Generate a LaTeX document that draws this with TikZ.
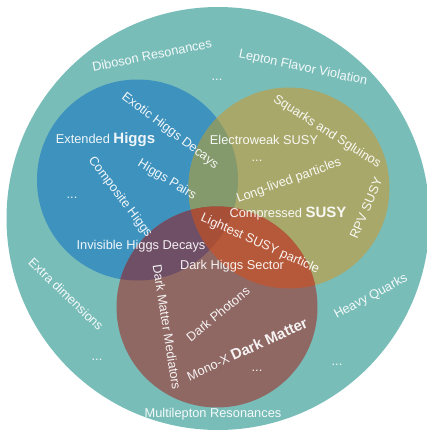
\documentclass[tikz,border=0pt]{standalone}
\usepackage{fontspec}
\setmainfont{Liberation Sans}
\definecolor{teal0}{HTML}{79BDB9}
\definecolor{higgsc}{HTML}{3E92BE}
\definecolor{susyc}{HTML}{A8A86B}
\definecolor{dmc}{HTML}{8F6864}
\definecolor{hsc}{HTML}{84996C}
\definecolor{hdc}{HTML}{6F4F66}
\definecolor{sdc}{HTML}{B6593A}
\definecolor{hsdc}{HTML}{A84F38}
\newcommand\topicword[1]{{\fontsize{15}{16}\selectfont\bfseries #1}}
\begin{document}
\begin{tikzpicture}[x=1pt,y=-1pt,
  lbl/.style={text=white, text opacity=0.92, inner sep=0pt, anchor=center,
    font=\fontsize{12.8}{14}\selectfont},
  dots/.style={lbl}]
% canvas
\fill[white] (0,0) rectangle (427,434);
\useasboundingbox (0,0) rectangle (427,434);

% circles
\def\outerC{(218,218.5) circle[radius=211.5]}
\def\higgsC{(137.5,180) circle[radius=100.5]}
\def\susyC{(289,188) circle[radius=100.5]}
\def\dmC{(217,307) circle[radius=100.5]}

\fill[teal0] \outerC;
\fill[higgsc] \higgsC;
\fill[susyc] \susyC;
\fill[dmc] \dmC;
\begin{scope}
  \clip \higgsC;
  \fill[hsc] \susyC;
  \fill[hdc] \dmC;
\end{scope}
\begin{scope}
  \clip \susyC;
  \fill[sdc] \dmC;
\end{scope}
\begin{scope}
  \clip \higgsC;
  \clip \susyC;
  \fill[hsdc] \dmC;
\end{scope}

% outer ring labels
\node[lbl, rotate=11.5] (dib) at (152,55) {Diboson Resonances};
\node[lbl, rotate=-12] (lfv) at (303,68) {Lepton Flavor Violation};
\node[dots] (d0) at (217,80) {...};
\node[lbl, rotate=-44] (xd) at (66,294) {Extra dimensions};
\node[dots] (d1) at (97,360) {...};
\node[lbl, rotate=28] (hq) at (371,297) {Heavy Quarks};
\node[dots] (d2) at (337,365) {...};
\node[lbl] (mlr) at (213,414) {Multilepton Resonances};

% Higgs labels
\node[lbl] (eh) at (105.5,140) {Extended \topicword{Higgs}};
\node[lbl, rotate=-37] (ehd) at (170,131) {Exotic Higgs Decays};
\node[lbl, rotate=-53] (ch) at (120,197) {Composite Higgs};
\node[lbl, rotate=-31] (hp) at (167,180) {Higgs Pairs};
\node[dots] (d3) at (72,198) {...};
\node[lbl] (ihd) at (141,246) {Invisible Higgs Decays};

% SUSY labels
\node[lbl] (ew) at (264,140) {Electroweak SUSY};
\node[lbl, rotate=-32.5] (sq) at (327,132) {Squarks and Sgluinos};
\node[dots] (d4) at (257,161) {...};
\node[lbl, rotate=20] (llp) at (289,181) {Long-lived particles};
\node[lbl] (cs) at (288,214) {Compressed \topicword{SUSY}};
\node[lbl, rotate=67] (rpv) at (366,208) {RPV SUSY};
\node[lbl, rotate=-24] (lsp) at (260,244) {Lightest SUSY particle};

% Dark matter labels
\node[lbl] (dhs) at (232,266) {Dark Higgs Sector};
\node[lbl, rotate=-81] (dmm) at (167,327) {Dark Matter Mediators};
\node[lbl, rotate=39.5] (dp) at (218,314) {Dark Photons};
\node[lbl, rotate=24.5] (mx) at (247,349) {Mono-X \topicword{Dark Matter}};
\node[dots] (d5) at (257,371) {...};
\end{tikzpicture}
\end{document}
